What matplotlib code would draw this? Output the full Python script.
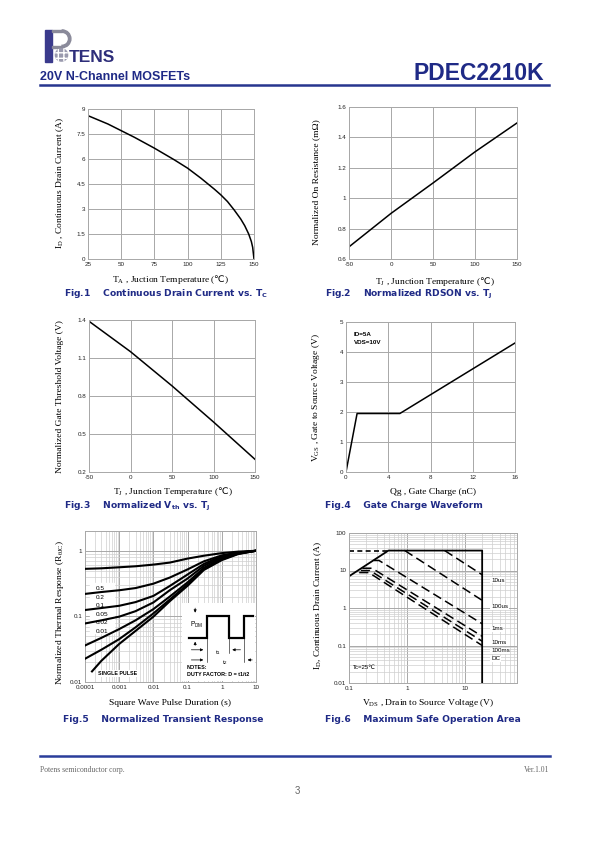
import matplotlib
matplotlib.use('Agg')
import matplotlib.pyplot as plt
from matplotlib.patches import Rectangle, Circle, Wedge
from matplotlib.ticker import NullFormatter

W, H = 595, 842
plt.rcParams['font.family'] = ['Liberation Sans', 'DejaVu Sans']
plt.rcParams['mathtext.fontset'] = 'custom'
plt.rcParams['mathtext.rm'] = 'DejaVu Sans'
plt.rcParams['axes.unicode_minus'] = False

NAVY = '#1f2a86'
GRID = '#a8a8a8'
MINOR = '#cfcfcf'
SERIF = ['Liberation Serif', 'DejaVu Serif']

# ── data ──────────────────────────────────────────────────────────────────────
# Fig.1 continuous drain current vs temperature
tc_temp = [25, 40, 50, 60, 75, 90, 100, 110, 120, 125, 130, 135, 140, 143, 146, 148, 149, 150]
tc_id = [8.6, 8.1, 7.7, 7.3, 6.65, 5.95, 5.45, 4.85, 4.2, 3.85, 3.45, 2.95, 2.4, 2.0, 1.5, 1.05, 0.7, 0.0]

# Fig.2 normalized RDSON
rd_temp = [-50, 0, 50, 100, 150]
rd_norm = [0.68, 0.90, 1.10, 1.305, 1.495]

# Fig.3 normalized Vth
vth_temp = [-50, 0, 50, 100, 150]
vth_norm = [1.39, 1.15, 0.88, 0.595, 0.30]

# Fig.4 gate charge
qg = [0, 1.05, 5.1, 16]
vgs = [0, 1.95, 1.95, 4.3]

# Fig.5 transient thermal response
zt_t = [1e-4, 3e-4, 1e-3, 3e-3, 1e-2, 3e-2, 1e-1, 3e-1, 1, 3, 10]
zt_d05 = [0.53, 0.54, 0.56, 0.58, 0.615, 0.66, 0.76, 0.84, 0.92, 0.97, 1.0]
zt_d02 = [0.22, 0.235, 0.25, 0.27, 0.315, 0.39, 0.52, 0.69, 0.85, 0.94, 1.0]
zt_d01 = [0.125, 0.134, 0.145, 0.165, 0.205, 0.29, 0.435, 0.63, 0.83, 0.93, 1.0]
zt_d005 = [0.078, 0.087, 0.099, 0.12, 0.163, 0.25, 0.378, 0.59, 0.80, 0.92, 1.0]
zt_d002 = [0.036, 0.047, 0.064, 0.087, 0.129, 0.2, 0.33, 0.55, 0.77, 0.91, 1.0]
zt_d001 = [0.0226, 0.031, 0.045, 0.068, 0.111, 0.18, 0.307, 0.53, 0.74, 0.90, 1.0]
zt_single_t = [1.6e-4, 3e-4, 1e-3, 3e-3, 1e-2, 3e-2, 1e-1, 3e-1, 1, 3, 10]
zt_single = [0.0145, 0.021, 0.038, 0.06, 0.099, 0.17, 0.293, 0.51, 0.72, 0.89, 1.0]
zt_labels = ['0.5', '0.2', '0.1', '0.05', '0.02', '0.01']

# Fig.6 safe operating area
soa_lim_v = [0.1, 0.48, 20, 20]
soa_lim_i = [7.0, 34, 34, 0.01]
soa_ext_v = [0.1, 0.48]
soa_ext_i = [34, 34]
soa_lines = {
    '10us': ([4.5, 20], [34, 7.7]),
    '100us': ([0.92, 20], [34, 1.6]),
    '1ms': ([0.27, 0.33, 20], [18.5, 18.5, 0.38]),
    '10ms': ([0.17, 0.25, 20], [11.5, 11.5, 0.176]),
    '100ms': ([0.16, 0.23, 20], [10.0, 10.0, 0.13]),
    'DC': ([0.15, 0.22, 20], [8.8, 8.8, 0.10]),
}
soa_label_y = {'10us': 580, '100us': 607, '1ms': 629, '10ms': 643, '100ms': 651, 'DC': 659}


def px_rect(x0, y0, x1, y1):
    return [x0 / W, 1 - y1 / H, (x1 - x0) / W, (y1 - y0) / H]


def ftext(x, y, s, **kw):
    fig.text(x / W, 1 - y / H, s, **kw)


def style(ax, log=False):
    ax.grid(True, which='major', color=GRID, lw=0.7)
    if log:
        ax.grid(True, which='minor', color=MINOR, lw=0.5)
    ax.set_axisbelow(True)
    for sp in ax.spines.values():
        sp.set_color(GRID)
        sp.set_linewidth(0.7)
    ax.tick_params(which='both', length=0, pad=2, labelsize=4.5, colors='#222222')


def caption(x, y, s):
    ftext(x, y, s, fontsize=6.6, fontweight='bold', color=NAVY,
          family=['DejaVu Sans'], va='center', ha='left')


def axlabel(x, y, s, rot=0):
    ftext(x, y, s, fontsize=6.8, family=SERIF, ha='center', va='center', rotation=rot)


fig = plt.figure(figsize=(W / 100, H / 100), dpi=100)

# ── header ───────────────────────────────────────────────────────────────────
logo = fig.add_axes(px_rect(44, 28, 122, 64))
logo.set_xlim(44, 122)
logo.set_ylim(64, 28)
logo.axis('off')
logo.add_patch(Rectangle((45, 30), 7, 32, color='#3a3a8c'))
logo.add_patch(Rectangle((52, 30), 10, 2.2, color='#8a8a9a'))
logo.add_patch(Rectangle((52, 45.5), 10, 2.2, color='#8a8a9a'))
logo.add_patch(Wedge((62, 38.8), 8.9, -90, 90, width=2.4, color='#8a8a9a'))
logo.add_patch(Circle((61.5, 55), 6.8, facecolor='#9a9aae', edgecolor='white',
                      hatch='+++', lw=0))
logo.text(68.5, 62.5, 'TENS', fontsize=12.5, fontweight='bold', color='#2e2e7a',
          ha='left', va='baseline')

ftext(40, 77, '20V N-Channel MOSFETs', fontsize=9, fontweight='bold', color=NAVY,
      va='center', ha='left')
ftext(544, 74, 'PDEC2210K', fontsize=16.5, fontweight='bold', color=NAVY,
      va='center', ha='right')
fig.add_artist(plt.Line2D([40 / W, 549 / W], [1 - 85 / H, 1 - 85 / H], color='#27358f', lw=1.8))

DEGC = r'($\mathrm{℃}$)'

# ── Fig.1 ────────────────────────────────────────────────────────────────────
ax1 = fig.add_axes(px_rect(88, 109, 254, 259))
ax1.plot(tc_temp, tc_id, color='black', lw=1.1)
ax1.set_xlim(25, 150)
ax1.set_ylim(0, 9)
ax1.set_xticks([25, 50, 75, 100, 125, 150])
ax1.set_yticks([0, 1.5, 3, 4.5, 6, 7.5, 9], labels=['0', '1.5', '3', '4.5', '6', '7.5', '9'])
style(ax1)
axlabel(171, 280, r'T$_\mathregular{A}$ , Juction Temperature ' + DEGC)
axlabel(60, 183, r'I$_\mathregular{D}$ , Continuous Drain Current (A)', rot=90)
caption(64, 294, r'Fig.1    Continuous Drain Current vs. T$_\mathregular{C}$')

# ── Fig.2 ────────────────────────────────────────────────────────────────────
ax2 = fig.add_axes(px_rect(349, 107, 517, 259))
ax2.plot(rd_temp, rd_norm, color='black', lw=1.1)
ax2.set_xlim(-50, 150)
ax2.set_ylim(0.6, 1.6)
ax2.set_xticks([-50, 0, 50, 100, 150])
ax2.set_yticks([0.6, 0.8, 1.0, 1.2, 1.4, 1.6], labels=['0.6', '0.8', '1', '1.2', '1.4', '1.6'])
style(ax2)
axlabel(435, 281, r'T$_\mathregular{J}$ , Junction Temperature ' + DEGC)
axlabel(316, 182, 'Normalized On Resistance (mΩ)', rot=90)
caption(325, 294, r'Fig.2    Normalized RDSON vs. T$_\mathregular{J}$')

# ── Fig.3 ────────────────────────────────────────────────────────────────────
ax3 = fig.add_axes(px_rect(89, 320, 255, 472))
ax3.plot(vth_temp, vth_norm, color='black', lw=1.1)
ax3.set_xlim(-50, 150)
ax3.set_ylim(0.2, 1.4)
ax3.set_xticks([-50, 0, 50, 100, 150])
ax3.set_yticks([0.2, 0.5, 0.8, 1.1, 1.4])
style(ax3)
axlabel(173, 492, r'T$_\mathregular{J}$ , Junction Temperature ' + DEGC)
axlabel(60, 397, 'Normalized Gate Threshold Voltage (V)', rot=90)
caption(64, 506, r'Fig.3    Normalized V$_\mathregular{th}$ vs. T$_\mathregular{J}$')

# ── Fig.4 ────────────────────────────────────────────────────────────────────
ax4 = fig.add_axes(px_rect(346, 322, 515, 472))
ax4.plot(qg, vgs, color='black', lw=1.1)
ax4.set_xlim(0, 16)
ax4.set_ylim(0, 5)
ax4.set_xticks([0, 4, 8, 12, 16])
ax4.set_yticks([0, 1, 2, 3, 4, 5])
style(ax4)
ax4.text(0.045, 0.93, 'ID=5A\nVDS=10V', transform=ax4.transAxes, fontsize=4.5,
         fontweight='bold', va='top', ha='left', linespacing=1.5)
axlabel(433, 492, 'Qg , Gate Charge (nC)')
axlabel(316, 398, r'V$_\mathregular{GS}$ , Gate to Source Voltage (V)', rot=90)
caption(325, 506, 'Fig.4    Gate Charge Waveform')

# ── Fig.5 ────────────────────────────────────────────────────────────────────
ax5 = fig.add_axes(px_rect(85, 531, 256, 682))
ax5.set_xscale('log')
ax5.set_yscale('log')
ax5.set_xlim(1e-4, 10)
ax5.set_ylim(0.01, 2)
ax5.add_patch(Rectangle((0.03, 0.325), 0.14, 0.33, transform=ax5.transAxes,
                        color='white', zorder=1))
for z in [zt_d05, zt_d02, zt_d01, zt_d005, zt_d002, zt_d001]:
    ax5.plot(zt_t, z, color='black', lw=1.5, zorder=3)
ax5.plot(zt_single_t, zt_single, color='black', lw=1.5, zorder=3)
for i, lab in enumerate(zt_labels):
    ax5.text(0.065, 0.617 - i * 0.056, lab, transform=ax5.transAxes, fontsize=4.6,
             va='center', ha='left', zorder=4)
ax5.text(0.075, 0.055, 'SINGLE PULSE', transform=ax5.transAxes, fontsize=3.8,
         fontweight='bold', va='center', ha='left', zorder=4,
         bbox=dict(fc='white', ec='none', pad=0.6))
ax5.set_xticks([1e-4, 1e-3, 1e-2, 1e-1, 1, 10],
               labels=['0.0001', '0.001', '0.01', '0.1', '1', '10'])
ax5.set_yticks([0.01, 0.1, 1], labels=['0.01', '0.1', '1'])
ax5.xaxis.set_minor_formatter(NullFormatter())
ax5.yaxis.set_minor_formatter(NullFormatter())
style(ax5, log=True)

# duty-cycle sketch
ins = fig.add_axes(px_rect(182, 603, 255, 681))
ins.set_xlim(0, 100)
ins.set_ylim(0, 100)
ins.axis('off')
ins.add_patch(Rectangle((0, 0), 100, 100, color='white', zorder=0))
ins.plot([9, 34, 34, 64, 64, 84.5, 84.5, 97], [55, 55, 83, 83, 55, 55, 83, 83],
         color='black', lw=1.6, solid_joinstyle='miter')
arrow = dict(arrowstyle='-|>', color='black', lw=0.5, mutation_scale=4)
ins.annotate('', xy=(18, 84), xytext=(18, 97), arrowprops=arrow)
ins.annotate('', xy=(18, 54), xytext=(18, 42), arrowprops=arrow)
ins.annotate('', xy=(33, 40), xytext=(9, 40), arrowprops=arrow)
ins.annotate('', xy=(65, 40), xytext=(84, 40), arrowprops=arrow)
ins.annotate('', xy=(33, 27), xytext=(9, 27), arrowprops=arrow)
ins.annotate('', xy=(86, 27), xytext=(100, 27), arrowprops=arrow)
ins.plot([34, 34], [55, 24], color='black', lw=0.4)
ins.plot([64, 64], [55, 36], color='black', lw=0.4)
ins.plot([84.5, 84.5], [55, 24], color='black', lw=0.4)
ins.text(11, 72, r'P$_\mathregular{DM}$', fontsize=4.8, va='center', ha='left')
ins.text(49, 37, r't$_\mathregular{1}$', fontsize=4.5, va='center', ha='center')
ins.text(59, 24, r't$_\mathregular{2}$', fontsize=4.5, va='center', ha='center')
ins.text(7, 17, 'NOTES:', fontsize=3.9, fontweight='bold', va='center', ha='left')
ins.text(7, 8, 'DUTY FACTOR: D = t1/t2', fontsize=3.9, fontweight='bold',
         va='center', ha='left')

axlabel(170, 703, 'Square Wave Pulse Duration (s)')
axlabel(60, 612, r'Normalized Thermal Response (R$_\mathregular{θJC}$)', rot=90)
caption(63, 720, 'Fig.5    Normalized Transient Response')

# ── Fig.6 ────────────────────────────────────────────────────────────────────
ax6 = fig.add_axes(px_rect(349, 533, 517, 683))
ax6.set_xscale('log')
ax6.set_yscale('log')
ax6.set_xlim(0.1, 80)
ax6.set_ylim(0.01, 100)
ax6.plot(soa_lim_v, soa_lim_i, color='black', lw=1.3)
ax6.plot(soa_ext_v, soa_ext_i, color='black', lw=1.2, dashes=(3, 2))
for name, (v, i) in soa_lines.items():
    ax6.plot(v, i, color='black', lw=1.1, dashes=(6, 3))
    ftext(491, soa_label_y[name], name, fontsize=4.5, va='center', ha='left',
          bbox=dict(fc='white', ec='none', pad=0.4))
ax6.text(0.025, 0.105, 'Tc=25℃', transform=ax6.transAxes, fontsize=4.3,
         va='center', ha='left', family=['Liberation Sans', 'DejaVu Sans'])
ax6.set_xticks([0.1, 1, 10], labels=['0.1', '1', '10'])
ax6.set_yticks([0.01, 0.1, 1, 10, 100], labels=['0.01', '0.1', '1', '10', '100'])
ax6.xaxis.set_minor_formatter(NullFormatter())
ax6.yaxis.set_minor_formatter(NullFormatter())
style(ax6, log=True)
axlabel(428, 703, r'V$_\mathregular{DS}$ , Drain to Source Voltage (V)')
axlabel(318, 605, r'I$_\mathregular{D}$, Continuous Drain Current (A)', rot=90)
caption(325, 720, 'Fig.6    Maximum Safe Operation Area')

# ── footer ───────────────────────────────────────────────────────────────────
fig.add_artist(plt.Line2D([40 / W, 550 / W], [1 - 756 / H, 1 - 756 / H], color='#2a3d9a', lw=1.8))
ftext(40, 770, 'Potens semiconductor corp.', fontsize=5.5, family=SERIF, color='#666666',
      va='center', ha='left')
ftext(549, 770, 'Ver.1.01', fontsize=5.5, family=SERIF, color='#666666',
      va='center', ha='right')
ftext(297, 791, '3', fontsize=7, color='#666666', va='center', ha='center')

fig.savefig('out.png', dpi=100)
